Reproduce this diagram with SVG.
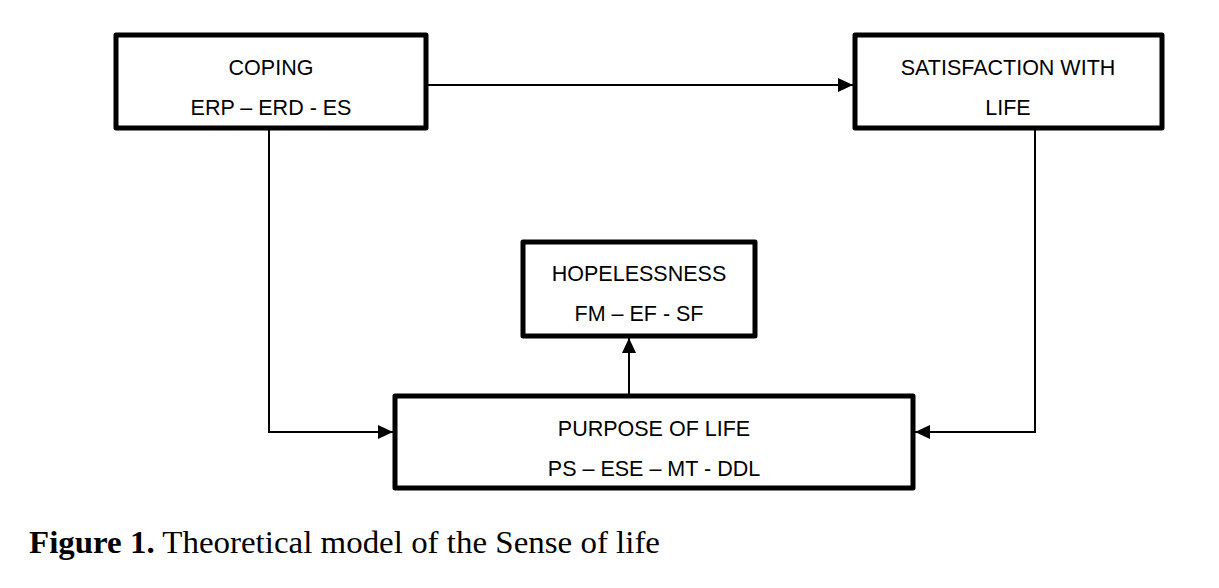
<svg xmlns="http://www.w3.org/2000/svg" width="1219" height="588" viewBox="0 0 1219 588">
<style>
.box{fill:#fff;stroke:#000;stroke-width:5;stroke-linejoin:round}
.lbl{font-family:"Liberation Sans",Arial,sans-serif;font-size:21.5px;fill:#000;text-anchor:middle}
.con{fill:none;stroke:#000;stroke-width:2}
.cap{font-family:"Liberation Serif","Times New Roman",serif;font-size:32px;fill:#000}
</style>
<defs>
<marker id="arr" markerUnits="userSpaceOnUse" markerWidth="16" markerHeight="14" refX="15" refY="7" orient="auto">
<path d="M0,0 L15,7 L0,14 Z" fill="#000"/>
</marker>
</defs>
<rect width="1219" height="588" fill="#fff"/>
<g id="connectors">
<line class="con" x1="428" y1="85" x2="853" y2="85" marker-end="url(#arr)"/>
<polyline class="con" points="269,130 269,432 393,432" marker-end="url(#arr)"/>
<polyline class="con" points="1035,130 1035,432 915,432" marker-end="url(#arr)"/>
<line class="con" x1="629" y1="402" x2="629" y2="338" marker-end="url(#arr)"/>
</g>
<g id="coping">
<rect class="box" x="116" y="35" width="310" height="93"/>
<text class="lbl" x="271" y="75">COPING</text>
<text class="lbl" x="271" y="115">ERP – ERD - ES</text>
</g>
<g id="satisfaction">
<rect class="box" x="855" y="35" width="307" height="93"/>
<text class="lbl" x="1008" y="75">SATISFACTION WITH</text>
<text class="lbl" x="1008" y="115">LIFE</text>
</g>
<g id="hopelessness">
<rect class="box" x="523" y="242" width="232" height="94"/>
<text class="lbl" x="639" y="281">HOPELESSNESS</text>
<text class="lbl" x="639" y="321">FM – EF - SF</text>
</g>
<g id="purpose">
<rect class="box" x="395" y="396" width="518" height="92"/>
<text class="lbl" x="654" y="436">PURPOSE OF LIFE</text>
<text class="lbl" x="654" y="476">PS – ESE – MT - DDL</text>
</g>
<text class="cap" x="29" y="553" textLength="631" lengthAdjust="spacingAndGlyphs"><tspan font-weight="bold">Figure 1.</tspan> Theoretical model of the Sense of life</text>
</svg>
